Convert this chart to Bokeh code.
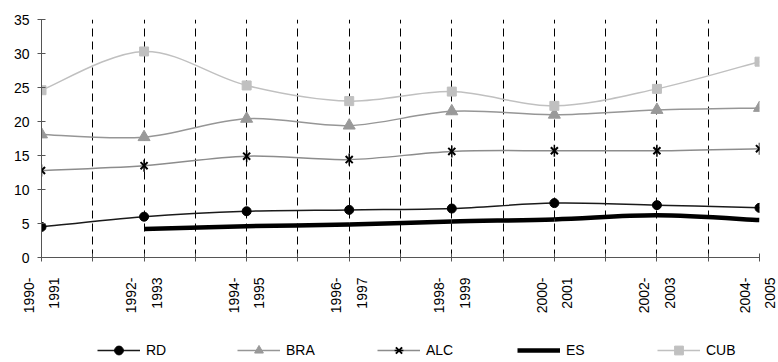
import math
from bokeh.plotting import figure
from bokeh.layouts import column
from bokeh.models import Range1d, FixedTicker, Legend, LegendItem, ColumnDataSource
from bokeh.embed import file_html
from bokeh.resources import INLINE

# ---- data ----
periods = ["1990-1991", "1992-1993", "1994-1995", "1996-1997",
           "1998-1999", "2000-2001", "2002-2003", "2004-2005"]
RD  = [4.5, 6.0, 6.8, 7.0, 7.2, 8.0, 7.7, 7.3]
BRA = [18.1, 17.7, 20.4, 19.4, 21.5, 21.0, 21.7, 22.0]
ALC = [12.8, 13.5, 14.9, 14.4, 15.6, 15.7, 15.7, 16.0]
ES  = [None, 4.2, 4.6, 4.85, 5.3, 5.6, 6.2, 5.5]
CUB = [24.6, 30.3, 25.3, 23.0, 24.4, 22.3, 24.8, 28.8]
y_ticks = [0, 5, 10, 15, 20, 25, 30, 35]

# each period occupies two yearly slots on the axis
xpos = [2 * i for i in range(len(periods))]
n_slots = 2 * (len(periods) - 1)

FONT = "Liberation Sans"

p = figure(width=778, height=320, output_backend="svg", toolbar_location=None,
           x_range=Range1d(0, n_slots), y_range=Range1d(0, 35),
           min_border_left=41, min_border_right=19, min_border_top=19,
           min_border_bottom=63)
p.outline_line_color = None
p.background_fill_color = "white"
p.border_fill_color = "white"

# axes
p.yaxis.ticker = FixedTicker(ticks=y_ticks)
p.yaxis.major_tick_in = 4
p.yaxis.major_tick_out = 4
p.yaxis.minor_tick_line_color = None
p.yaxis.major_label_standoff = 8
p.yaxis.axis_line_color = "#555555"
p.yaxis.major_tick_line_color = "#555555"
p.yaxis.major_label_text_font = FONT
p.yaxis.major_label_text_font_size = "14px"
p.yaxis.major_label_text_color = "black"

p.xaxis.ticker = FixedTicker(ticks=list(range(n_slots + 1)))
overrides = {}
for t in range(n_slots + 1):
    overrides[t] = ""
for x, lab in zip(xpos, periods):
    a, b = lab.split("-")
    overrides[x] = a + "-\n" + b
p.xaxis.major_label_overrides = overrides
p.xaxis.major_label_orientation = math.pi / 2
p.xaxis.major_tick_in = 4
p.xaxis.major_tick_out = 4
p.xaxis.minor_tick_line_color = None
p.xaxis.major_label_standoff = 16
p.xaxis.axis_line_color = "#555555"
p.xaxis.major_tick_line_color = "#555555"
p.xaxis.major_label_text_font = FONT
p.xaxis.major_label_text_font_size = "14px"
p.xaxis.major_label_text_color = "black"
p.xaxis.major_label_text_line_height = 1.6

p.ygrid.grid_line_color = None
p.xgrid.grid_line_color = "black"
p.xgrid.grid_line_dash = "8 5"
p.xgrid.grid_line_width = 1


def smooth_source(xs, ys):
    pts = [(x, y) for x, y in zip(xs, ys) if y is not None]
    n = len(pts)
    d = dict(x0=[], y0=[], x1=[], y1=[], cx0=[], cy0=[], cx1=[], cy1=[])
    for i in range(n - 1):
        p0 = pts[max(i - 1, 0)]
        p1 = pts[i]
        p2 = pts[i + 1]
        p3 = pts[min(i + 2, n - 1)]
        d["x0"].append(p1[0]); d["y0"].append(p1[1])
        d["x1"].append(p2[0]); d["y1"].append(p2[1])
        d["cx0"].append(p1[0] + (p2[0] - p0[0]) / 6.0)
        d["cy0"].append(p1[1] + (p2[1] - p0[1]) / 6.0)
        d["cx1"].append(p2[0] - (p3[0] - p1[0]) / 6.0)
        d["cy1"].append(p2[1] - (p3[1] - p1[1]) / 6.0)
    return ColumnDataSource(d), [q[0] for q in pts], [q[1] for q in pts]


# separate strip below the chart that carries the legend; its ranges are set
# so that the copies of the series plotted there fall outside the view
lf = figure(width=778, height=42, output_backend="svg", toolbar_location=None,
            x_range=Range1d(-2, -1), y_range=Range1d(-2, -1),
            x_axis_type=None, y_axis_type=None,
            min_border_left=0, min_border_right=0, min_border_top=0,
            min_border_bottom=0)
lf.outline_line_color = None
lf.xgrid.grid_line_color = None
lf.ygrid.grid_line_color = None

items = []

def add_series(name, ys, line_color, line_width, markers):
    src, mx, my = smooth_source(xpos, ys)
    p.bezier(x0="x0", y0="y0", x1="x1", y1="y1", cx0="cx0", cy0="cy0",
             cx1="cx1", cy1="cy1", source=src, line_color=line_color,
             line_width=line_width)
    for m in markers:
        p.scatter(mx, my, **m)
    # legend samples (drawn out of view in the legend strip)
    rends = [lf.line(mx, my, line_color=line_color, line_width=line_width)]
    for m in markers:
        rends.append(lf.scatter(mx, my, **m))
    items.append(LegendItem(label=name, renderers=rends))


add_series("RD", RD, "#1a1a1a", 1.5,
           [dict(marker="circle", size=9, fill_color="black", line_color="black")])
add_series("BRA", BRA, "#969696", 1.5,
           [dict(marker="triangle", size=12, fill_color="#999999", line_color="#999999")])
add_series("ALC", ALC, "#8c8c8c", 1.5,
           [dict(marker="x", size=10, line_color="black", line_width=2),
            dict(marker="dash", size=12, angle=math.pi / 2, line_color="black", line_width=1.5)])
add_series("ES", ES, "black", 4.5, [])
add_series("CUB", CUB, "#c0c0c0", 1.5,
           [dict(marker="square", size=9, fill_color="#c0c0c0", line_color="#c0c0c0")])

legend = Legend(items=items, orientation="horizontal", location=(56, 1),
                glyph_width=43, glyph_height=22, label_standoff=6, label_width=86,
                spacing=5, padding=0, margin=0,
                border_line_color=None, background_fill_alpha=0,
                label_text_font=FONT, label_text_font_size="14px",
                label_text_color="black")
lf.add_layout(legend, "center")

layout = column(p, lf, spacing=0)
open("out.html", "w").write(file_html(layout, INLINE))
